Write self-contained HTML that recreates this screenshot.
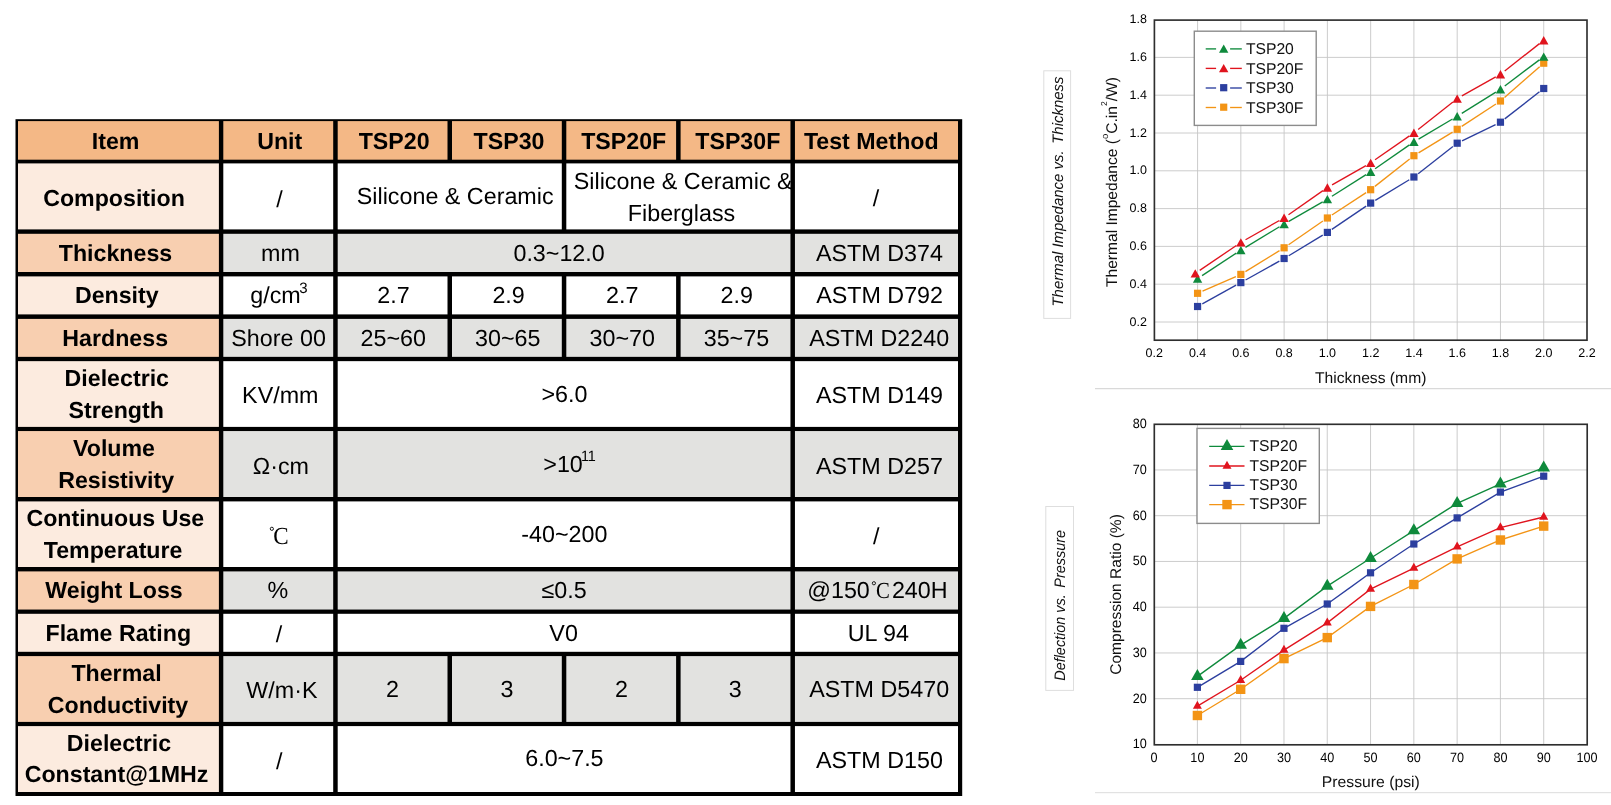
<!DOCTYPE html>
<html><head><meta charset="utf-8"><title>TSP datasheet</title>
<style>
html,body{margin:0;padding:0;background:#fff;}
body{width:1611px;height:805px;overflow:hidden;}
svg{display:block;will-change:transform;font-family:"Liberation Sans",sans-serif;text-rendering:geometricPrecision;}
text{fill:#000;}
.b{font-weight:bold;font-size:23.2px;}
.r{font-size:23.3px;}
.s{font-family:"Liberation Serif",serif;font-size:24px;}
.deg{font-size:15px;}
.sup{font-size:15px;}
.sup2{font-size:8px;}
.t{font-size:12.5px;fill:#000;}
.t2{font-size:13.5px;fill:#000;}
.l{font-size:15.7px;fill:#111;}
.a{font-size:15.5px;fill:#111;}
.i{font-size:15.2px;font-style:italic;fill:#111;}
.grid{stroke:#c6c6c6;stroke-width:0.9;}
</style></head><body>
<svg width="1611" height="805" viewBox="0 0 1611 805">
<rect x="15.5" y="119.2" width="946.70" height="676.80" fill="#000"/>
<rect x="18.00" y="121.10" width="200.90" height="38.60" fill="#f4b886"/>
<rect x="223.30" y="121.10" width="109.90" height="38.60" fill="#f4b886"/>
<rect x="337.70" y="121.10" width="109.80" height="38.60" fill="#f4b886"/>
<rect x="452.00" y="121.10" width="109.80" height="38.60" fill="#f4b886"/>
<rect x="566.30" y="121.10" width="109.80" height="38.60" fill="#f4b886"/>
<rect x="680.60" y="121.10" width="109.85" height="38.60" fill="#f4b886"/>
<rect x="794.95" y="121.10" width="163.05" height="38.60" fill="#f4b886"/>
<rect x="18.00" y="163.40" width="200.90" height="66.00" fill="#fcebdf"/>
<rect x="223.30" y="163.40" width="109.90" height="66.00" fill="#ffffff"/>
<rect x="337.70" y="163.40" width="224.10" height="66.00" fill="#ffffff"/>
<rect x="566.30" y="163.40" width="224.15" height="66.00" fill="#ffffff"/>
<rect x="794.95" y="163.40" width="163.05" height="66.00" fill="#ffffff"/>
<rect x="18.00" y="233.80" width="200.90" height="38.20" fill="#f8cfb0"/>
<rect x="223.30" y="233.80" width="109.90" height="38.20" fill="#e2e2e0"/>
<rect x="337.70" y="233.80" width="452.75" height="38.20" fill="#e2e2e0"/>
<rect x="794.95" y="233.80" width="163.05" height="38.20" fill="#e2e2e0"/>
<rect x="18.00" y="276.40" width="200.90" height="38.00" fill="#fcebdf"/>
<rect x="223.30" y="276.40" width="109.90" height="38.00" fill="#ffffff"/>
<rect x="337.70" y="276.40" width="109.80" height="38.00" fill="#ffffff"/>
<rect x="452.00" y="276.40" width="109.80" height="38.00" fill="#ffffff"/>
<rect x="566.30" y="276.40" width="109.80" height="38.00" fill="#ffffff"/>
<rect x="680.60" y="276.40" width="109.85" height="38.00" fill="#ffffff"/>
<rect x="794.95" y="276.40" width="163.05" height="38.00" fill="#ffffff"/>
<rect x="18.00" y="318.90" width="200.90" height="37.95" fill="#f8cfb0"/>
<rect x="223.30" y="318.90" width="109.90" height="37.95" fill="#e2e2e0"/>
<rect x="337.70" y="318.90" width="109.80" height="37.95" fill="#e2e2e0"/>
<rect x="452.00" y="318.90" width="109.80" height="37.95" fill="#e2e2e0"/>
<rect x="566.30" y="318.90" width="109.80" height="37.95" fill="#e2e2e0"/>
<rect x="680.60" y="318.90" width="109.85" height="37.95" fill="#e2e2e0"/>
<rect x="794.95" y="318.90" width="163.05" height="37.95" fill="#e2e2e0"/>
<rect x="18.00" y="361.15" width="200.90" height="65.75" fill="#fcebdf"/>
<rect x="223.30" y="361.15" width="109.90" height="65.75" fill="#ffffff"/>
<rect x="337.70" y="361.15" width="452.75" height="65.75" fill="#ffffff"/>
<rect x="794.95" y="361.15" width="163.05" height="65.75" fill="#ffffff"/>
<rect x="18.00" y="431.05" width="200.90" height="65.95" fill="#f8cfb0"/>
<rect x="223.30" y="431.05" width="109.90" height="65.95" fill="#e2e2e0"/>
<rect x="337.70" y="431.05" width="452.75" height="65.95" fill="#e2e2e0"/>
<rect x="794.95" y="431.05" width="163.05" height="65.95" fill="#e2e2e0"/>
<rect x="18.00" y="501.40" width="200.90" height="65.60" fill="#fcebdf"/>
<rect x="223.30" y="501.40" width="109.90" height="65.60" fill="#ffffff"/>
<rect x="337.70" y="501.40" width="452.75" height="65.60" fill="#ffffff"/>
<rect x="794.95" y="501.40" width="163.05" height="65.60" fill="#ffffff"/>
<rect x="18.00" y="571.40" width="200.90" height="38.15" fill="#f8cfb0"/>
<rect x="223.30" y="571.40" width="109.90" height="38.15" fill="#e2e2e0"/>
<rect x="337.70" y="571.40" width="452.75" height="38.15" fill="#e2e2e0"/>
<rect x="794.95" y="571.40" width="163.05" height="38.15" fill="#e2e2e0"/>
<rect x="18.00" y="613.80" width="200.90" height="38.00" fill="#fcebdf"/>
<rect x="223.30" y="613.80" width="109.90" height="38.00" fill="#ffffff"/>
<rect x="337.70" y="613.80" width="452.75" height="38.00" fill="#ffffff"/>
<rect x="794.95" y="613.80" width="163.05" height="38.00" fill="#ffffff"/>
<rect x="18.00" y="656.10" width="200.90" height="65.80" fill="#f8cfb0"/>
<rect x="223.30" y="656.10" width="109.90" height="65.80" fill="#e2e2e0"/>
<rect x="337.70" y="656.10" width="109.80" height="65.80" fill="#e2e2e0"/>
<rect x="452.00" y="656.10" width="109.80" height="65.80" fill="#e2e2e0"/>
<rect x="566.30" y="656.10" width="109.80" height="65.80" fill="#e2e2e0"/>
<rect x="680.60" y="656.10" width="109.85" height="65.80" fill="#e2e2e0"/>
<rect x="794.95" y="656.10" width="163.05" height="65.80" fill="#e2e2e0"/>
<rect x="18.00" y="726.10" width="200.90" height="65.90" fill="#fcebdf"/>
<rect x="223.30" y="726.10" width="109.90" height="65.90" fill="#ffffff"/>
<rect x="337.70" y="726.10" width="452.75" height="65.90" fill="#ffffff"/>
<rect x="794.95" y="726.10" width="163.05" height="65.90" fill="#ffffff"/>
<text x="115.60" y="148.60" class="b" text-anchor="middle" >Item</text>
<text x="279.70" y="148.60" class="b" text-anchor="middle" >Unit</text>
<text x="394.10" y="148.60" class="b" text-anchor="middle" >TSP20</text>
<text x="509.00" y="148.60" class="b" text-anchor="middle" >TSP30</text>
<text x="623.70" y="148.60" class="b" text-anchor="middle" >TSP20F</text>
<text x="737.80" y="148.60" class="b" text-anchor="middle" >TSP30F</text>
<text x="871.30" y="148.60" class="b" text-anchor="middle" >Test Method</text>
<text x="114.00" y="206.00" class="b" text-anchor="middle" >Composition</text>
<text x="279.40" y="207.00" class="r" text-anchor="middle" >/</text>
<text x="455.20" y="203.80" class="r" text-anchor="middle" >Silicone &amp; Ceramic</text>
<text x="683.20" y="188.60" class="r" text-anchor="middle" >Silicone &amp; Ceramic &amp;</text>
<text x="681.50" y="220.50" class="r" text-anchor="middle" >Fiberglass</text>
<text x="876.10" y="206.00" class="r" text-anchor="middle" >/</text>
<text x="115.50" y="260.80" class="b" text-anchor="middle" >Thickness</text>
<text x="280.40" y="260.80" class="r" text-anchor="middle" >mm</text>
<text x="559.10" y="260.50" class="r" text-anchor="middle" >0.3~12.0</text>
<text x="879.50" y="260.50" class="r" text-anchor="middle" >ASTM D374</text>
<text x="116.80" y="303.10" class="b" text-anchor="middle" >Density</text>
<text x="393.50" y="303.20" class="r" text-anchor="middle" >2.7</text>
<text x="508.60" y="303.20" class="r" text-anchor="middle" >2.9</text>
<text x="622.30" y="303.20" class="r" text-anchor="middle" >2.7</text>
<text x="736.70" y="303.20" class="r" text-anchor="middle" >2.9</text>
<text x="879.60" y="303.30" class="r" text-anchor="middle" >ASTM D792</text>
<text x="115.20" y="345.70" class="b" text-anchor="middle" >Hardness</text>
<text x="278.60" y="345.70" class="r" text-anchor="middle" >Shore 00</text>
<text x="393.20" y="345.80" class="r" text-anchor="middle" >25~60</text>
<text x="507.70" y="345.80" class="r" text-anchor="middle" >30~65</text>
<text x="622.30" y="345.80" class="r" text-anchor="middle" >30~70</text>
<text x="736.40" y="345.80" class="r" text-anchor="middle" >35~75</text>
<text x="879.20" y="345.90" class="r" text-anchor="middle" >ASTM D2240</text>
<text x="116.80" y="386.30" class="b" text-anchor="middle" >Dielectric</text>
<text x="116.20" y="418.00" class="b" text-anchor="middle" >Strength</text>
<text x="280.30" y="403.10" class="r" text-anchor="middle" >KV/mm</text>
<text x="564.40" y="401.60" class="r" text-anchor="middle" >&gt;6.0</text>
<text x="879.50" y="403.10" class="r" text-anchor="middle" >ASTM D149</text>
<text x="114.00" y="456.30" class="b" text-anchor="middle" >Volume</text>
<text x="116.20" y="488.00" class="b" text-anchor="middle" >Resistivity</text>
<text x="280.90" y="474.30" class="r" text-anchor="middle" >Ω·cm</text>
<text x="879.50" y="473.70" class="r" text-anchor="middle" >ASTM D257</text>
<text x="115.30" y="525.80" class="b" text-anchor="middle" >Continuous Use</text>
<text x="113.10" y="557.70" class="b" text-anchor="middle" >Temperature</text>
<text x="564.40" y="541.60" class="r" text-anchor="middle" >-40~200</text>
<text x="876.30" y="543.70" class="r" text-anchor="middle" >/</text>
<text x="114.00" y="598.20" class="b" text-anchor="middle" >Weight Loss</text>
<text x="277.90" y="598.20" class="r" text-anchor="middle" >%</text>
<text x="564.10" y="597.90" class="r" text-anchor="middle" >≤0.5</text>
<text x="118.30" y="641.10" class="b" text-anchor="middle" >Flame Rating</text>
<text x="279.10" y="641.80" class="r" text-anchor="middle" >/</text>
<text x="563.60" y="641.10" class="r" text-anchor="middle" >V0</text>
<text x="878.40" y="641.10" class="r" text-anchor="middle" >UL 94</text>
<text x="116.50" y="680.70" class="b" text-anchor="middle" >Thermal</text>
<text x="118.00" y="712.60" class="b" text-anchor="middle" >Conductivity</text>
<text x="281.90" y="697.70" class="r" text-anchor="middle" >W/m·K</text>
<text x="392.60" y="697.40" class="r" text-anchor="middle" >2</text>
<text x="506.90" y="697.20" class="r" text-anchor="middle" >3</text>
<text x="621.40" y="697.20" class="r" text-anchor="middle" >2</text>
<text x="735.20" y="697.20" class="r" text-anchor="middle" >3</text>
<text x="879.20" y="697.10" class="r" text-anchor="middle" >ASTM D5470</text>
<text x="119.00" y="750.70" class="b" text-anchor="middle" >Dielectric</text>
<text x="116.50" y="782.00" class="b" text-anchor="middle" >Constant@1MHz</text>
<text x="279.30" y="769.00" class="r" text-anchor="middle" >/</text>
<text x="564.40" y="766.20" class="r" text-anchor="middle" >6.0~7.5</text>
<text x="879.50" y="768.00" class="r" text-anchor="middle" >ASTM D150</text>
<text x="250.3" y="303.4" class="r">g/cm</text>
<text x="299.2" y="292.9" class="sup">3</text>
<text x="543.3" y="471.9" class="r">&gt;10</text>
<text x="580.9" y="460.8" class="sup" textLength="15" lengthAdjust="spacingAndGlyphs">11</text>
<circle cx="271.85" cy="528.8" r="1.6" fill="none" stroke="#111" stroke-width="0.95"/>
<text x="273.3" y="543.9" class="s" style="font-size:24.5px" textLength="15.4" lengthAdjust="spacingAndGlyphs">C</text>
<text x="807.3" y="598.1" class="r">@150</text>
<circle cx="873.9" cy="583.25" r="1.6" fill="none" stroke="#111" stroke-width="0.95"/>
<text x="875.9" y="598.1" class="s" style="font-size:23px" textLength="13.8" lengthAdjust="spacingAndGlyphs">C</text>
<text x="947.6" y="598.1" class="r" text-anchor="end">240H</text>
<line x1="1197.57" y1="20.1" x2="1197.57" y2="340.2" class="grid"/>
<line x1="1240.84" y1="20.1" x2="1240.84" y2="340.2" class="grid"/>
<line x1="1284.11" y1="20.1" x2="1284.11" y2="340.2" class="grid"/>
<line x1="1327.38" y1="20.1" x2="1327.38" y2="340.2" class="grid"/>
<line x1="1370.65" y1="20.1" x2="1370.65" y2="340.2" class="grid"/>
<line x1="1413.92" y1="20.1" x2="1413.92" y2="340.2" class="grid"/>
<line x1="1457.19" y1="20.1" x2="1457.19" y2="340.2" class="grid"/>
<line x1="1500.46" y1="20.1" x2="1500.46" y2="340.2" class="grid"/>
<line x1="1543.73" y1="20.1" x2="1543.73" y2="340.2" class="grid"/>
<line x1="1154.4" y1="322.00" x2="1587.0" y2="322.00" class="grid"/>
<line x1="1154.4" y1="284.20" x2="1587.0" y2="284.20" class="grid"/>
<line x1="1154.4" y1="246.40" x2="1587.0" y2="246.40" class="grid"/>
<line x1="1154.4" y1="208.60" x2="1587.0" y2="208.60" class="grid"/>
<line x1="1154.4" y1="170.80" x2="1587.0" y2="170.80" class="grid"/>
<line x1="1154.4" y1="133.00" x2="1587.0" y2="133.00" class="grid"/>
<line x1="1154.4" y1="95.20" x2="1587.0" y2="95.20" class="grid"/>
<line x1="1154.4" y1="57.40" x2="1587.0" y2="57.40" class="grid"/>
<line x1="1202.30" y1="303.89" x2="1236.11" y2="285.21" stroke="#2c3f9f" stroke-width="1.35"/>
<line x1="1245.56" y1="279.97" x2="1279.39" y2="261.13" stroke="#2c3f9f" stroke-width="1.35"/>
<line x1="1288.73" y1="255.71" x2="1322.76" y2="235.19" stroke="#2c3f9f" stroke-width="1.35"/>
<line x1="1331.85" y1="229.37" x2="1366.18" y2="206.13" stroke="#2c3f9f" stroke-width="1.35"/>
<line x1="1375.27" y1="200.31" x2="1409.30" y2="179.79" stroke="#2c3f9f" stroke-width="1.35"/>
<line x1="1418.18" y1="173.68" x2="1452.93" y2="146.52" stroke="#2c3f9f" stroke-width="1.35"/>
<line x1="1462.05" y1="140.84" x2="1495.60" y2="124.56" stroke="#2c3f9f" stroke-width="1.35"/>
<line x1="1504.72" y1="118.88" x2="1539.47" y2="91.82" stroke="#2c3f9f" stroke-width="1.35"/>
<line x1="1202.52" y1="291.14" x2="1235.89" y2="276.56" stroke="#f39415" stroke-width="1.35"/>
<line x1="1245.44" y1="271.57" x2="1279.51" y2="250.63" stroke="#f39415" stroke-width="1.35"/>
<line x1="1288.56" y1="244.74" x2="1322.93" y2="221.06" stroke="#f39415" stroke-width="1.35"/>
<line x1="1331.90" y1="215.04" x2="1366.13" y2="192.66" stroke="#f39415" stroke-width="1.35"/>
<line x1="1374.90" y1="186.36" x2="1409.67" y2="159.04" stroke="#f39415" stroke-width="1.35"/>
<line x1="1418.53" y1="152.89" x2="1452.58" y2="132.11" stroke="#f39415" stroke-width="1.35"/>
<line x1="1461.71" y1="126.34" x2="1495.94" y2="103.96" stroke="#f39415" stroke-width="1.35"/>
<line x1="1504.53" y1="97.45" x2="1539.66" y2="66.75" stroke="#f39415" stroke-width="1.35"/>
<line x1="1202.08" y1="275.63" x2="1236.33" y2="253.07" stroke="#0f8a3c" stroke-width="1.35"/>
<line x1="1245.46" y1="247.31" x2="1279.49" y2="226.79" stroke="#0f8a3c" stroke-width="1.35"/>
<line x1="1288.79" y1="221.31" x2="1322.70" y2="201.79" stroke="#0f8a3c" stroke-width="1.35"/>
<line x1="1331.95" y1="196.22" x2="1366.08" y2="174.68" stroke="#0f8a3c" stroke-width="1.35"/>
<line x1="1375.09" y1="168.72" x2="1409.48" y2="144.88" stroke="#0f8a3c" stroke-width="1.35"/>
<line x1="1418.57" y1="139.06" x2="1452.54" y2="119.04" stroke="#0f8a3c" stroke-width="1.35"/>
<line x1="1461.77" y1="113.43" x2="1495.88" y2="92.07" stroke="#0f8a3c" stroke-width="1.35"/>
<line x1="1504.77" y1="85.95" x2="1539.42" y2="59.85" stroke="#0f8a3c" stroke-width="1.35"/>
<line x1="1199.73" y1="270.36" x2="1236.38" y2="245.44" stroke="#e0141e" stroke-width="1.35"/>
<line x1="1245.53" y1="239.73" x2="1279.42" y2="220.47" stroke="#e0141e" stroke-width="1.35"/>
<line x1="1288.53" y1="214.70" x2="1322.96" y2="190.60" stroke="#e0141e" stroke-width="1.35"/>
<line x1="1332.07" y1="184.83" x2="1365.96" y2="165.57" stroke="#e0141e" stroke-width="1.35"/>
<line x1="1375.08" y1="159.82" x2="1409.49" y2="135.88" stroke="#e0141e" stroke-width="1.35"/>
<line x1="1418.16" y1="129.45" x2="1452.95" y2="101.95" stroke="#e0141e" stroke-width="1.35"/>
<line x1="1461.90" y1="95.96" x2="1495.75" y2="76.94" stroke="#e0141e" stroke-width="1.35"/>
<line x1="1504.71" y1="70.96" x2="1539.48" y2="43.64" stroke="#e0141e" stroke-width="1.35"/>
<rect x="1193.97" y="302.90" width="7.2" height="7.2" fill="#2c3f9f"/>
<rect x="1237.24" y="279.00" width="7.2" height="7.2" fill="#2c3f9f"/>
<rect x="1280.51" y="254.90" width="7.2" height="7.2" fill="#2c3f9f"/>
<rect x="1323.78" y="228.80" width="7.2" height="7.2" fill="#2c3f9f"/>
<rect x="1367.05" y="199.50" width="7.2" height="7.2" fill="#2c3f9f"/>
<rect x="1410.32" y="173.40" width="7.2" height="7.2" fill="#2c3f9f"/>
<rect x="1453.59" y="139.60" width="7.2" height="7.2" fill="#2c3f9f"/>
<rect x="1496.86" y="118.60" width="7.2" height="7.2" fill="#2c3f9f"/>
<rect x="1540.13" y="84.90" width="7.2" height="7.2" fill="#2c3f9f"/>
<rect x="1193.97" y="289.70" width="7.2" height="7.2" fill="#f39415"/>
<rect x="1237.24" y="270.80" width="7.2" height="7.2" fill="#f39415"/>
<rect x="1280.51" y="244.20" width="7.2" height="7.2" fill="#f39415"/>
<rect x="1323.78" y="214.40" width="7.2" height="7.2" fill="#f39415"/>
<rect x="1367.05" y="186.10" width="7.2" height="7.2" fill="#f39415"/>
<rect x="1410.32" y="152.10" width="7.2" height="7.2" fill="#f39415"/>
<rect x="1453.59" y="125.70" width="7.2" height="7.2" fill="#f39415"/>
<rect x="1496.86" y="97.40" width="7.2" height="7.2" fill="#f39415"/>
<rect x="1540.13" y="59.60" width="7.2" height="7.2" fill="#f39415"/>
<polygon points="1197.57,274.40 1202.27,282.80 1192.87,282.80" fill="#0f8a3c"/>
<polygon points="1240.84,245.90 1245.54,254.30 1236.14,254.30" fill="#0f8a3c"/>
<polygon points="1284.11,219.80 1288.81,228.20 1279.41,228.20" fill="#0f8a3c"/>
<polygon points="1327.38,194.90 1332.08,203.30 1322.68,203.30" fill="#0f8a3c"/>
<polygon points="1370.65,167.60 1375.35,176.00 1365.95,176.00" fill="#0f8a3c"/>
<polygon points="1413.92,137.60 1418.62,146.00 1409.22,146.00" fill="#0f8a3c"/>
<polygon points="1457.19,112.10 1461.89,120.50 1452.49,120.50" fill="#0f8a3c"/>
<polygon points="1500.46,85.00 1505.16,93.40 1495.76,93.40" fill="#0f8a3c"/>
<polygon points="1543.73,52.40 1548.43,60.80 1539.03,60.80" fill="#0f8a3c"/>
<polygon points="1195.27,269.20 1199.97,277.60 1190.57,277.60" fill="#e0141e"/>
<polygon points="1240.84,238.20 1245.54,246.60 1236.14,246.60" fill="#e0141e"/>
<polygon points="1284.11,213.60 1288.81,222.00 1279.41,222.00" fill="#e0141e"/>
<polygon points="1327.38,183.30 1332.08,191.70 1322.68,191.70" fill="#e0141e"/>
<polygon points="1370.65,158.70 1375.35,167.10 1365.95,167.10" fill="#e0141e"/>
<polygon points="1413.92,128.60 1418.62,137.00 1409.22,137.00" fill="#e0141e"/>
<polygon points="1457.19,94.40 1461.89,102.80 1452.49,102.80" fill="#e0141e"/>
<polygon points="1500.46,70.10 1505.16,78.50 1495.76,78.50" fill="#e0141e"/>
<polygon points="1543.73,36.10 1548.43,44.50 1539.03,44.50" fill="#e0141e"/>
<rect x="1154.4" y="20.1" width="432.60" height="320.10" fill="none" stroke="#2e2e2e" stroke-width="1.65"/>
<text transform="translate(1154.30,357.40) scale(1.0,1)" class="t" text-anchor="middle">0.2</text>
<text transform="translate(1197.57,357.40) scale(1.0,1)" class="t" text-anchor="middle">0.4</text>
<text transform="translate(1240.84,357.40) scale(1.0,1)" class="t" text-anchor="middle">0.6</text>
<text transform="translate(1284.11,357.40) scale(1.0,1)" class="t" text-anchor="middle">0.8</text>
<text transform="translate(1327.38,357.40) scale(1.0,1)" class="t" text-anchor="middle">1.0</text>
<text transform="translate(1370.65,357.40) scale(1.0,1)" class="t" text-anchor="middle">1.2</text>
<text transform="translate(1413.92,357.40) scale(1.0,1)" class="t" text-anchor="middle">1.4</text>
<text transform="translate(1457.19,357.40) scale(1.0,1)" class="t" text-anchor="middle">1.6</text>
<text transform="translate(1500.46,357.40) scale(1.0,1)" class="t" text-anchor="middle">1.8</text>
<text transform="translate(1543.73,357.40) scale(1.0,1)" class="t" text-anchor="middle">2.0</text>
<text transform="translate(1587.00,357.40) scale(1.0,1)" class="t" text-anchor="middle">2.2</text>
<text transform="translate(1146.90,325.50) scale(1.0,1)" class="t" text-anchor="end">0.2</text>
<text transform="translate(1146.90,287.70) scale(1.0,1)" class="t" text-anchor="end">0.4</text>
<text transform="translate(1146.90,249.90) scale(1.0,1)" class="t" text-anchor="end">0.6</text>
<text transform="translate(1146.90,212.10) scale(1.0,1)" class="t" text-anchor="end">0.8</text>
<text transform="translate(1146.90,174.30) scale(1.0,1)" class="t" text-anchor="end">1.0</text>
<text transform="translate(1146.90,136.50) scale(1.0,1)" class="t" text-anchor="end">1.2</text>
<text transform="translate(1146.90,98.70) scale(1.0,1)" class="t" text-anchor="end">1.4</text>
<text transform="translate(1146.90,60.90) scale(1.0,1)" class="t" text-anchor="end">1.6</text>
<text transform="translate(1146.90,23.10) scale(1.0,1)" class="t" text-anchor="end">1.8</text>
<text x="1370.70" y="382.8" class="a" text-anchor="middle" textLength="111.4" lengthAdjust="spacingAndGlyphs">Thickness (mm)</text>
<text transform="translate(1117.4,182) rotate(-90)" class="a" text-anchor="middle" textLength="210" lengthAdjust="spacingAndGlyphs">Thermal Impedance (<tspan style="font-size:9.5px" dy="-9.2">o</tspan><tspan dy="9.2">C.in</tspan><tspan style="font-size:8.6px" dy="-10.6">2</tspan><tspan dy="10.6">/W)</tspan></text>
<rect x="1043.8" y="70.8" width="26.80" height="247.60" fill="#fff" stroke="#dedede" stroke-width="1"/>
<text transform="translate(1062.7,191.5) rotate(-90)" class="i" text-anchor="middle" textLength="230" lengthAdjust="spacingAndGlyphs" xml:space="preserve">Thermal Impedance vs. <tspan dx="2.6">Thickness</tspan></text>
<rect x="1194.3" y="31.2" width="121.90" height="94.20" fill="#fff" stroke="#8c8c8c" stroke-width="1.4"/>
<line x1="1205.7" y1="48.9" x2="1216.1000000000001" y2="48.9" stroke="#0f8a3c" stroke-width="1.35"/>
<line x1="1230.1000000000001" y1="48.9" x2="1241.8" y2="48.9" stroke="#0f8a3c" stroke-width="1.35"/>
<polygon points="1223.70,44.40 1228.40,52.80 1219.00,52.80" fill="#0f8a3c"/>
<text x="1245.90" y="54.00" class="l" text-anchor="start" >TSP20</text>
<line x1="1205.7" y1="68.4" x2="1216.1000000000001" y2="68.4" stroke="#e0141e" stroke-width="1.35"/>
<line x1="1230.1000000000001" y1="68.4" x2="1241.8" y2="68.4" stroke="#e0141e" stroke-width="1.35"/>
<polygon points="1223.70,63.90 1228.40,72.30 1219.00,72.30" fill="#e0141e"/>
<text x="1245.90" y="73.50" class="l" text-anchor="start" >TSP20F</text>
<line x1="1205.7" y1="88.0" x2="1216.1000000000001" y2="88.0" stroke="#2c3f9f" stroke-width="1.35"/>
<line x1="1230.1000000000001" y1="88.0" x2="1241.8" y2="88.0" stroke="#2c3f9f" stroke-width="1.35"/>
<rect x="1220.10" y="84.10" width="7.2" height="7.2" fill="#2c3f9f"/>
<text x="1245.90" y="93.10" class="l" text-anchor="start" >TSP30</text>
<line x1="1205.7" y1="107.5" x2="1216.1000000000001" y2="107.5" stroke="#f39415" stroke-width="1.35"/>
<line x1="1230.1000000000001" y1="107.5" x2="1241.8" y2="107.5" stroke="#f39415" stroke-width="1.35"/>
<rect x="1220.10" y="103.60" width="7.2" height="7.2" fill="#f39415"/>
<text x="1245.90" y="112.60" class="l" text-anchor="start" >TSP30F</text>
<line x1="1095" y1="388.7" x2="1611" y2="388.7" stroke="#d0d0d0" stroke-width="1"/>
<line x1="1197.39" y1="424.3" x2="1197.39" y2="744.8" class="grid"/>
<line x1="1240.68" y1="424.3" x2="1240.68" y2="744.8" class="grid"/>
<line x1="1283.97" y1="424.3" x2="1283.97" y2="744.8" class="grid"/>
<line x1="1327.26" y1="424.3" x2="1327.26" y2="744.8" class="grid"/>
<line x1="1370.55" y1="424.3" x2="1370.55" y2="744.8" class="grid"/>
<line x1="1413.84" y1="424.3" x2="1413.84" y2="744.8" class="grid"/>
<line x1="1457.13" y1="424.3" x2="1457.13" y2="744.8" class="grid"/>
<line x1="1500.42" y1="424.3" x2="1500.42" y2="744.8" class="grid"/>
<line x1="1543.71" y1="424.3" x2="1543.71" y2="744.8" class="grid"/>
<line x1="1154.3" y1="698.70" x2="1587.2" y2="698.70" class="grid"/>
<line x1="1154.3" y1="652.95" x2="1587.2" y2="652.95" class="grid"/>
<line x1="1154.3" y1="607.20" x2="1587.2" y2="607.20" class="grid"/>
<line x1="1154.3" y1="561.45" x2="1587.2" y2="561.45" class="grid"/>
<line x1="1154.3" y1="515.70" x2="1587.2" y2="515.70" class="grid"/>
<line x1="1154.3" y1="469.95" x2="1587.2" y2="469.95" class="grid"/>
<polyline fill="none" stroke="#f39415" stroke-width="1.35" points="1197.39,715.50 1240.68,689.30 1283.97,658.60 1327.26,637.60 1370.55,606.40 1413.84,584.50 1457.13,558.90 1500.42,540.00 1543.71,526.10"/>
<polyline fill="none" stroke="#e0141e" stroke-width="1.35" points="1197.39,706.13 1240.68,680.23 1283.97,650.13 1327.26,622.83 1370.55,589.13 1413.84,568.13 1457.13,546.83 1500.42,527.63 1543.71,517.03"/>
<polyline fill="none" stroke="#2c3f9f" stroke-width="1.35" points="1197.39,687.30 1240.68,661.40 1283.97,628.30 1327.26,604.00 1370.55,572.80 1413.84,544.00 1457.13,517.90 1500.42,492.10 1543.71,476.20"/>
<polyline fill="none" stroke="#0f8a3c" stroke-width="1.35" points="1197.39,676.33 1240.68,645.13 1283.97,618.33 1327.26,586.13 1370.55,558.23 1413.84,530.63 1457.13,503.33 1500.42,483.93 1543.71,467.83"/>
<rect x="1192.69" y="710.80" width="9.4" height="9.4" fill="#f39415"/>
<rect x="1235.98" y="684.60" width="9.4" height="9.4" fill="#f39415"/>
<rect x="1279.27" y="653.90" width="9.4" height="9.4" fill="#f39415"/>
<rect x="1322.56" y="632.90" width="9.4" height="9.4" fill="#f39415"/>
<rect x="1365.85" y="601.70" width="9.4" height="9.4" fill="#f39415"/>
<rect x="1409.14" y="579.80" width="9.4" height="9.4" fill="#f39415"/>
<rect x="1452.43" y="554.20" width="9.4" height="9.4" fill="#f39415"/>
<rect x="1495.72" y="535.30" width="9.4" height="9.4" fill="#f39415"/>
<rect x="1539.01" y="521.40" width="9.4" height="9.4" fill="#f39415"/>
<polygon points="1197.39,700.80 1201.89,708.80 1192.89,708.80" fill="#e0141e"/>
<polygon points="1240.68,674.90 1245.18,682.90 1236.18,682.90" fill="#e0141e"/>
<polygon points="1283.97,644.80 1288.47,652.80 1279.47,652.80" fill="#e0141e"/>
<polygon points="1327.26,617.50 1331.76,625.50 1322.76,625.50" fill="#e0141e"/>
<polygon points="1370.55,583.80 1375.05,591.80 1366.05,591.80" fill="#e0141e"/>
<polygon points="1413.84,562.80 1418.34,570.80 1409.34,570.80" fill="#e0141e"/>
<polygon points="1457.13,541.50 1461.63,549.50 1452.63,549.50" fill="#e0141e"/>
<polygon points="1500.42,522.30 1504.92,530.30 1495.92,530.30" fill="#e0141e"/>
<polygon points="1543.71,511.70 1548.21,519.70 1539.21,519.70" fill="#e0141e"/>
<rect x="1193.79" y="683.70" width="7.2" height="7.2" fill="#2c3f9f"/>
<rect x="1237.08" y="657.80" width="7.2" height="7.2" fill="#2c3f9f"/>
<rect x="1280.37" y="624.70" width="7.2" height="7.2" fill="#2c3f9f"/>
<rect x="1323.66" y="600.40" width="7.2" height="7.2" fill="#2c3f9f"/>
<rect x="1366.95" y="569.20" width="7.2" height="7.2" fill="#2c3f9f"/>
<rect x="1410.24" y="540.40" width="7.2" height="7.2" fill="#2c3f9f"/>
<rect x="1453.53" y="514.30" width="7.2" height="7.2" fill="#2c3f9f"/>
<rect x="1496.82" y="488.50" width="7.2" height="7.2" fill="#2c3f9f"/>
<rect x="1540.11" y="472.60" width="7.2" height="7.2" fill="#2c3f9f"/>
<polygon points="1197.39,669.00 1203.69,680.00 1191.09,680.00" fill="#0f8a3c"/>
<polygon points="1240.68,637.80 1246.98,648.80 1234.38,648.80" fill="#0f8a3c"/>
<polygon points="1283.97,611.00 1290.27,622.00 1277.67,622.00" fill="#0f8a3c"/>
<polygon points="1327.26,578.80 1333.56,589.80 1320.96,589.80" fill="#0f8a3c"/>
<polygon points="1370.55,550.90 1376.85,561.90 1364.25,561.90" fill="#0f8a3c"/>
<polygon points="1413.84,523.30 1420.14,534.30 1407.54,534.30" fill="#0f8a3c"/>
<polygon points="1457.13,496.00 1463.43,507.00 1450.83,507.00" fill="#0f8a3c"/>
<polygon points="1500.42,476.60 1506.72,487.60 1494.12,487.60" fill="#0f8a3c"/>
<polygon points="1543.71,460.50 1550.01,471.50 1537.41,471.50" fill="#0f8a3c"/>
<rect x="1154.3" y="424.3" width="432.90" height="320.50" fill="none" stroke="#2e2e2e" stroke-width="1.65"/>
<text transform="translate(1154.10,762.00) scale(0.935,1)" class="t2" text-anchor="middle">0</text>
<text transform="translate(1197.39,762.00) scale(0.935,1)" class="t2" text-anchor="middle">10</text>
<text transform="translate(1240.68,762.00) scale(0.935,1)" class="t2" text-anchor="middle">20</text>
<text transform="translate(1283.97,762.00) scale(0.935,1)" class="t2" text-anchor="middle">30</text>
<text transform="translate(1327.26,762.00) scale(0.935,1)" class="t2" text-anchor="middle">40</text>
<text transform="translate(1370.55,762.00) scale(0.935,1)" class="t2" text-anchor="middle">50</text>
<text transform="translate(1413.84,762.00) scale(0.935,1)" class="t2" text-anchor="middle">60</text>
<text transform="translate(1457.13,762.00) scale(0.935,1)" class="t2" text-anchor="middle">70</text>
<text transform="translate(1500.42,762.00) scale(0.935,1)" class="t2" text-anchor="middle">80</text>
<text transform="translate(1543.71,762.00) scale(0.935,1)" class="t2" text-anchor="middle">90</text>
<text transform="translate(1587.00,762.00) scale(0.935,1)" class="t2" text-anchor="middle">100</text>
<text transform="translate(1146.80,748.25) scale(0.935,1)" class="t2" text-anchor="end">10</text>
<text transform="translate(1146.80,702.50) scale(0.935,1)" class="t2" text-anchor="end">20</text>
<text transform="translate(1146.80,656.75) scale(0.935,1)" class="t2" text-anchor="end">30</text>
<text transform="translate(1146.80,611.00) scale(0.935,1)" class="t2" text-anchor="end">40</text>
<text transform="translate(1146.80,565.25) scale(0.935,1)" class="t2" text-anchor="end">50</text>
<text transform="translate(1146.80,519.50) scale(0.935,1)" class="t2" text-anchor="end">60</text>
<text transform="translate(1146.80,473.75) scale(0.935,1)" class="t2" text-anchor="end">70</text>
<text transform="translate(1146.80,428.00) scale(0.935,1)" class="t2" text-anchor="end">80</text>
<text x="1370.75" y="786.9" class="a" text-anchor="middle" textLength="98" lengthAdjust="spacingAndGlyphs">Pressure (psi)</text>
<text transform="translate(1120.7,594.5) rotate(-90)" class="a" text-anchor="middle" textLength="160.6" lengthAdjust="spacingAndGlyphs">Compression Ratio (%)</text>
<rect x="1045.8" y="506.5" width="27.70" height="183.90" fill="#fff" stroke="#dedede" stroke-width="1"/>
<text transform="translate(1065,605.4) rotate(-90)" class="i" text-anchor="middle" textLength="150.8" lengthAdjust="spacingAndGlyphs" xml:space="preserve">Deflection vs. <tspan dx="2.6">Pressure</tspan></text>
<rect x="1197.0" y="428.4" width="122.30" height="95.00" fill="#fff" stroke="#8c8c8c" stroke-width="1.4"/>
<line x1="1209.2" y1="446.4" x2="1244.5" y2="446.4" stroke="#0f8a3c" stroke-width="1.35"/>
<polygon points="1227.00,439.07 1233.30,450.07 1220.70,450.07" fill="#0f8a3c"/>
<text x="1249.50" y="451.00" class="l" text-anchor="start" >TSP20</text>
<line x1="1209.2" y1="466.0" x2="1244.5" y2="466.0" stroke="#e0141e" stroke-width="1.35"/>
<polygon points="1227.00,460.67 1231.50,468.67 1222.50,468.67" fill="#e0141e"/>
<text x="1249.50" y="470.60" class="l" text-anchor="start" >TSP20F</text>
<line x1="1209.2" y1="485.4" x2="1244.5" y2="485.4" stroke="#2c3f9f" stroke-width="1.35"/>
<rect x="1223.40" y="481.80" width="7.2" height="7.2" fill="#2c3f9f"/>
<text x="1249.50" y="490.00" class="l" text-anchor="start" >TSP30</text>
<line x1="1209.2" y1="504.6" x2="1244.5" y2="504.6" stroke="#f39415" stroke-width="1.35"/>
<rect x="1222.30" y="499.90" width="9.4" height="9.4" fill="#f39415"/>
<text x="1249.50" y="509.20" class="l" text-anchor="start" >TSP30F</text>
<line x1="1095" y1="792.7" x2="1611" y2="792.7" stroke="#dcdcdc" stroke-width="1"/>
</svg>
</body></html>
